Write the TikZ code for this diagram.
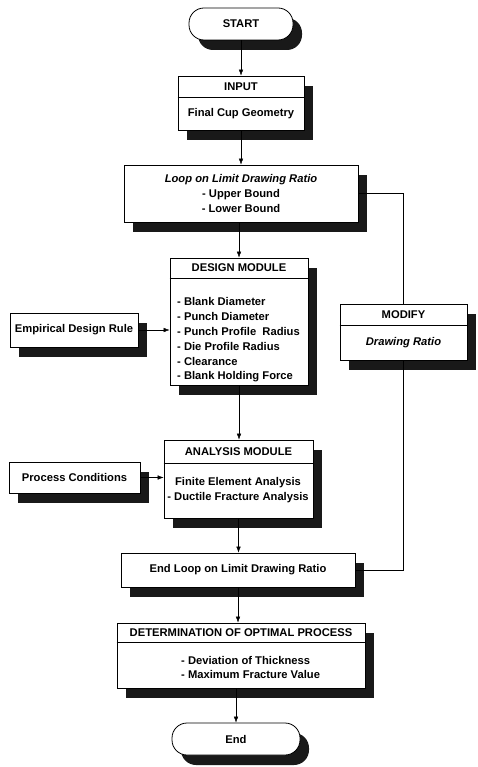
\documentclass[tikz,border=0pt]{standalone}
\usepackage{fontspec}
\setmainfont{Liberation Sans}
\usetikzlibrary{arrows.meta, shadows}

\tikzset{
  box/.style={draw, fill=white, line width=0.8pt, inner sep=0pt,
    drop shadow={shadow xshift=9pt, shadow yshift=-10pt, fill=black!90, opacity=1}},
  term/.style={box, rounded corners=15pt},
  head/.style={inner sep=0pt, anchor=north},
}

\begin{document}
\begin{tikzpicture}[x=1pt, y=-1pt, >={Latex[length=6pt, width=4.5pt]}, every node/.style={font=\fontsize{11.2}{14.8}\selectfont\bfseries, align=center}]
  \useasboundingbox (0,0) rectangle (477,767);

  % main column
  \node[term, minimum width=104pt, minimum height=32pt] (start) at (241,24) {START};

  \node[box, minimum width=126pt, minimum height=54pt] (input) at (241,103) {};
  \node[head, minimum height=21pt] (inputhead) at (input.north) {INPUT};
  \draw[line width=0.8pt] (inputhead.south -| input.west) -- (inputhead.south -| input.east);
  \node (inputbody) at (241,113.5) {Final Cup Geometry};

  \node[box, minimum width=234pt, minimum height=57pt] (loop) at (241,193.5) {\textit{Loop on Limit Drawing Ratio}\\- Upper Bound\\- Lower Bound};

  \node[box, minimum width=138pt, minimum height=127pt] (design) at (239,321.5) {};
  \node[head, minimum height=20pt] (designhead) at (design.north) {DESIGN MODULE};
  \draw[line width=0.8pt] (designhead.south -| design.west) -- (designhead.south -| design.east);
  \node[anchor=west, inner sep=0pt, align=left] (designbody) at (177,340) {- Blank Diameter\\- Punch Diameter\\- Punch Profile\ \ Radius\\- Die Profile Radius\\- Clearance\\- Blank Holding Force};

  \node[box, minimum width=149pt, minimum height=78pt] (analysis) at (238.5,479) {};
  \node[head, minimum height=23pt] (analysishead) at (analysis.north) {ANALYSIS MODULE};
  \draw[line width=0.8pt] (analysishead.south -| analysis.west) -- (analysishead.south -| analysis.east);
  \node (analysisbody) at (238,490) {Finite Element Analysis\\- Ductile Fracture Analysis};

  \node[box, minimum width=234pt, minimum height=34pt] (endloop) at (238,570) {End Loop on Limit Drawing Ratio};

  \node[box, minimum width=248pt, minimum height=65pt] (determ) at (241,655.5) {};
  \node[head, minimum height=19pt] (determhead) at (determ.north) {DETERMINATION OF OPTIMAL PROCESS};
  \draw[line width=0.8pt] (determhead.south -| determ.west) -- (determhead.south -| determ.east);
  \node[anchor=west, inner sep=0pt, align=left] (determbody) at (181,667.5) {- Deviation of Thickness\\- Maximum Fracture Value};

  \node[term, minimum width=128pt, minimum height=32pt] (finish) at (236,739) {End};

  % side boxes
  \node[box, minimum width=128pt, minimum height=34pt] (empirical) at (74,330) {Empirical Design Rule};
  \node[box, minimum width=131pt, minimum height=31pt] (process) at (74.5,477.5) {Process Conditions};

  \node[box, minimum width=127pt, minimum height=56pt] (modify) at (403.5,332) {};
  \node[head, minimum height=21pt] (modifyhead) at (modify.north) {MODIFY};
  \draw[line width=0.8pt] (modifyhead.south -| modify.west) -- (modifyhead.south -| modify.east);
  \node (modifybody) at (403.5,343) {\textit{Drawing Ratio}};

  % connectors
  \draw[->] (start.south) -- (start.south |- input.north);
  \draw[->] (input.south) -- (input.south |- loop.north);
  \draw[->] (design.north |- loop.south) -- (design.north);
  \draw[->] (design.south) -- (design.south |- analysis.north);
  \draw[->] (analysis.south) -- (analysis.south |- endloop.north);
  \draw[->] (endloop.south) -- (endloop.south |- determ.north);
  \draw[->] (finish.north |- determ.south) -- (finish.north);
  \draw[->] (empirical.east) -- (empirical.east -| design.west);
  \draw[->] (process.east) -- (process.east -| analysis.west);
  \draw (loop.east) -| (modify.north);
  \draw (modify.south) |- (endloop.east);
\end{tikzpicture}
\end{document}
